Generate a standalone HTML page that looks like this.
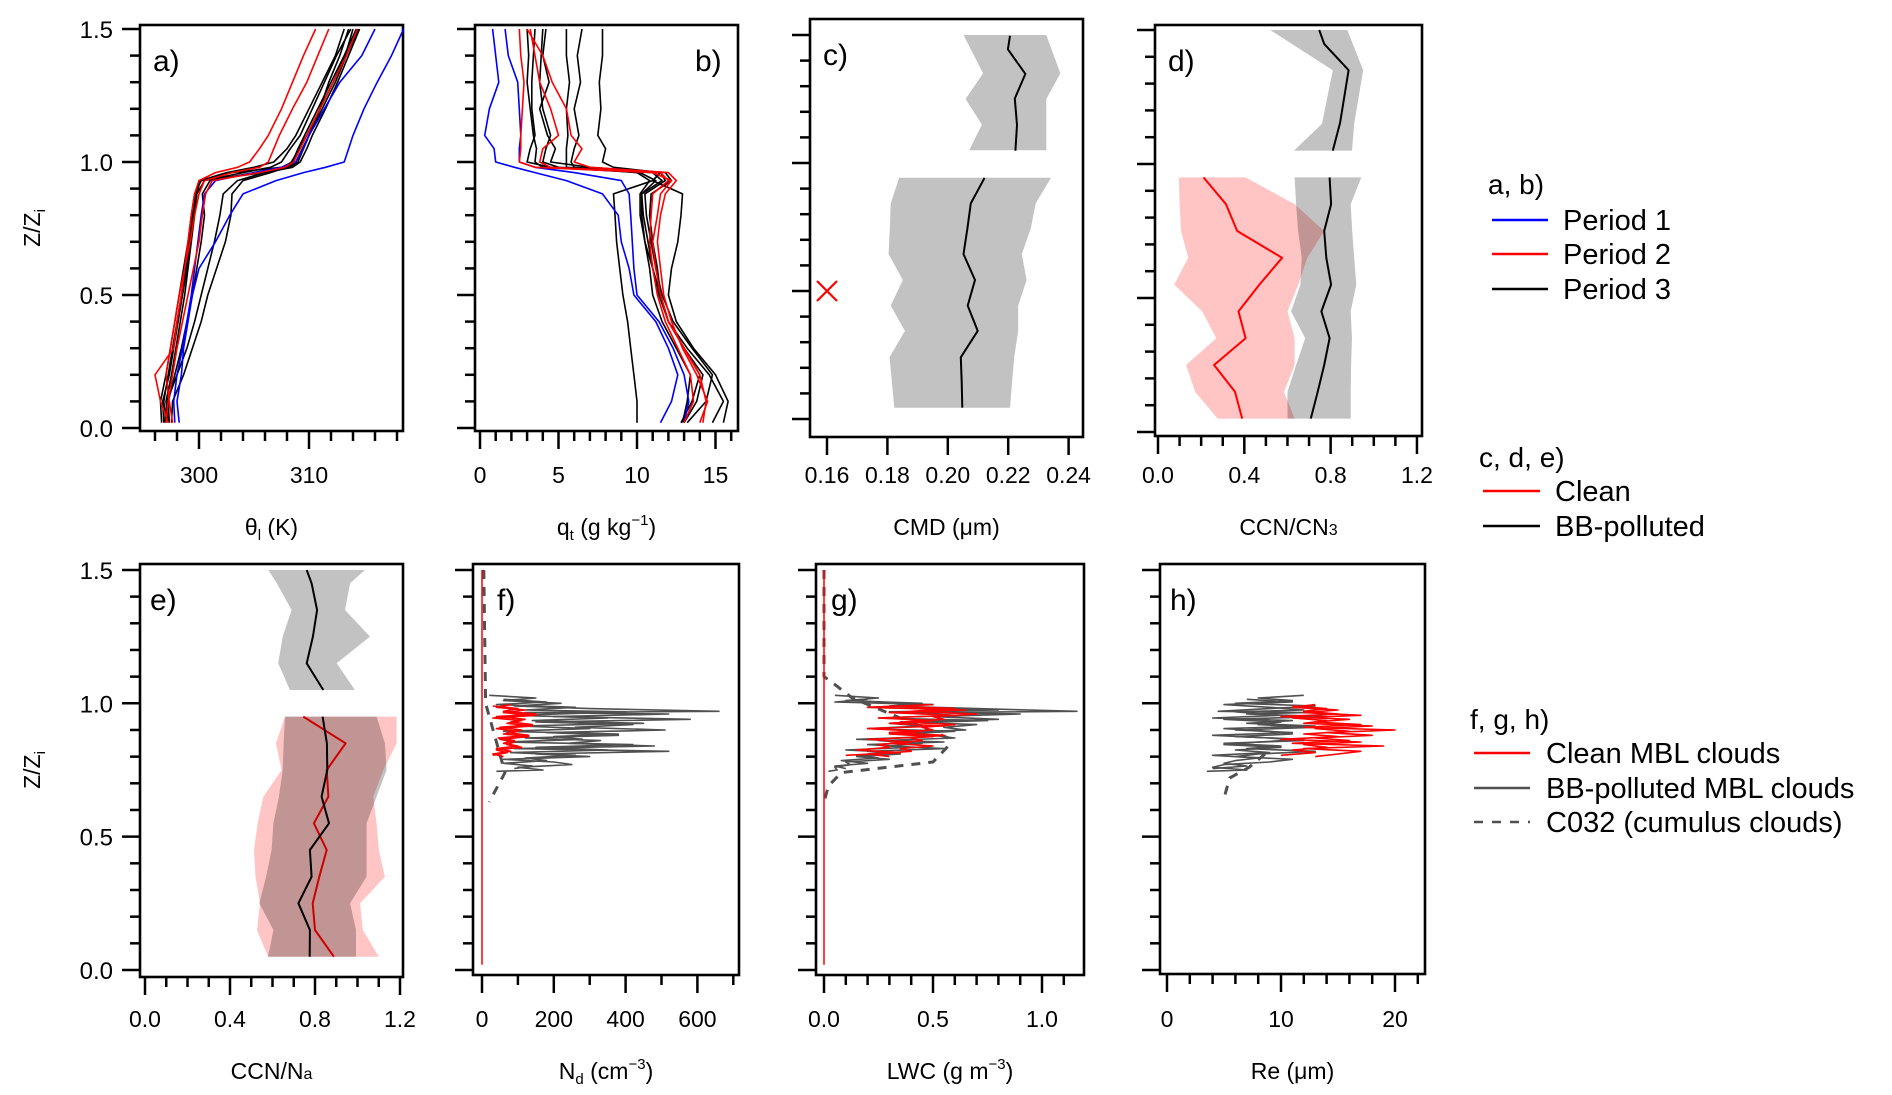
<!DOCTYPE html>
<html><head><meta charset="utf-8"><style>
html,body{margin:0;padding:0;background:#fff;}
svg{display:block;font-family:"Liberation Sans",sans-serif;}
</style></head><body>
<svg id="fig" width="1892" height="1095" viewBox="0 0 1892 1095" xmlns="http://www.w3.org/2000/svg">
<g id="legend" font-size="29" fill="#000">
  <text x="1488" y="194" font-size="28">a, b)</text>
  <line x1="1492" y1="220" x2="1548" y2="220" stroke="#0000ff" stroke-width="2.5"/>
  <text x="1563" y="230">Period 1</text>
  <line x1="1492" y1="254" x2="1548" y2="254" stroke="#ff0000" stroke-width="2.5"/>
  <text x="1563" y="264">Period 2</text>
  <line x1="1492" y1="289" x2="1548" y2="289" stroke="#000" stroke-width="2.5"/>
  <text x="1563" y="299">Period 3</text>
  <text x="1479" y="467" font-size="28">c, d, e)</text>
  <line x1="1483" y1="491" x2="1540" y2="491" stroke="#ff0000" stroke-width="2.5"/>
  <text x="1555" y="501">Clean</text>
  <line x1="1483" y1="526" x2="1540" y2="526" stroke="#000" stroke-width="2.5"/>
  <text x="1555" y="536">BB-polluted</text>
  <text x="1470" y="729" font-size="28">f, g, h)</text>
  <line x1="1474" y1="753" x2="1530" y2="753" stroke="#ff0000" stroke-width="2.5"/>
  <text x="1546" y="763">Clean MBL clouds</text>
  <line x1="1474" y1="788" x2="1530" y2="788" stroke="#505050" stroke-width="2.5"/>
  <text x="1546" y="798">BB-polluted MBL clouds</text>
  <line x1="1474" y1="822" x2="1530" y2="822" stroke="#505050" stroke-width="2.5" stroke-dasharray="9,9"/>
  <text x="1546" y="832">C032 (cumulus clouds)</text>
</g>
</svg>
<script>
// ---------- data ----------
const Z = [0.02,0.1,0.2,0.3,0.4,0.5,0.6,0.7,0.8,0.88,0.93,0.96,0.98,1.0,1.05,1.1,1.2,1.3,1.4,1.5];
const thetaBlack = [
 [297.0,296.8,297.2,297.6,298.0,298.4,298.8,299.1,299.4,299.7,300.0,303,307.5,308.5,309.0,309.6,310.8,312.0,313.2,314.3],
 [296.6,296.5,297.0,297.4,297.8,298.2,298.6,299.0,299.3,299.6,300.2,306,308.5,309.2,309.8,310.3,311.5,312.6,313.6,314.6],
 [297.3,297.2,297.8,298.4,298.9,299.4,299.8,300.2,300.5,300.3,301,305,307.8,308.4,309.1,309.8,311.0,312.2,313.3,314.0],
 [297.5,297.6,298.6,299.4,300.2,300.8,301.6,302.4,302.9,303.0,304,306.5,308.0,308.8,309.4,310.0,311.2,312.4,313.4,314.5],
 [296.9,297.1,298.0,298.9,299.6,300.2,300.8,301.4,301.9,302.2,303.5,306.0,308.2,309.0,309.5,310.0,311.0,311.8,312.8,313.6],
 [297.2,297.0,297.5,297.9,298.3,298.7,299.0,299.3,299.6,299.8,300.5,304.0,306.5,307.5,308.3,309.2,310.3,311.4,312.5,313.8],
 [296.8,296.7,297.3,297.7,298.1,298.5,298.9,299.2,299.5,299.8,300.1,302.5,305.0,306.8,308.0,308.8,310.0,311.2,312.4,313.2]];
const thetaBlue = [
 [298.2,298.0,298.4,298.6,299.0,299.4,300.0,301.5,302.8,304.0,307,309.5,311.5,313.2,313.6,314.0,315.0,316.2,317.5,318.6],
 [297.8,297.7,298.0,298.5,298.9,299.3,299.6,299.9,300.2,300.5,301.5,305,307.5,308.8,309.5,310.0,311.4,312.8,314.8,316.0]];
const thetaRed = [
 [297.2,296.5,296.0,297.7,298.0,298.4,298.7,299.0,299.3,299.6,300.0,301.5,303.5,304.6,305.5,306.3,307.5,308.5,309.5,310.6],
 [297.6,297.3,297.0,297.4,297.8,298.2,298.7,299.2,299.6,300.0,300.5,303.0,305.5,306.3,306.8,307.3,308.5,309.8,310.8,311.8],
 [297.0,297.2,297.6,298.0,298.5,299.0,299.5,300.0,300.3,300.6,301.2,305.5,307.8,308.6,309.2,309.8,311.0,312.2,313.4,314.4]];
const qtBlack = [
 [12.8,13.5,14.0,13.0,12.0,11.4,11.0,10.7,10.4,10.3,11.6,11.0,4.0,3.5,3.6,3.4,3.2,3.0,3.1,3.0],
 [13.2,14.4,14.8,13.5,12.3,11.6,11.2,10.9,10.6,10.5,11.8,11.5,5.0,4.0,4.2,4.5,4.0,3.8,3.9,4.0],
 [14.8,15.5,14.6,13.2,12.0,11.5,11.3,11.0,10.8,10.9,12.2,11.8,7.0,4.5,4.8,4.3,3.8,4.4,4.0,4.2],
 [10.0,10.0,9.8,9.6,9.4,9.1,8.9,8.7,8.6,8.5,11.0,11.5,5.5,5.5,5.5,5.6,5.5,5.7,5.5,5.5],
 [15.5,15.8,15.0,13.6,12.5,12.0,12.2,12.6,12.8,12.9,11.0,11.5,8.5,7.8,8.0,7.5,7.7,7.6,7.8,7.8],
 [13.0,13.8,14.2,13.0,12.0,11.5,11.0,10.5,10.2,10.2,10.8,10.0,6.0,5.8,6.0,6.3,6.0,6.4,6.2,6.5],
 [12.9,13.2,13.4,12.5,11.6,11.0,10.8,10.5,10.3,10.3,11.2,10.2,4.5,3.0,3.2,3.5,3.3,3.3,3.4,3.5]];
const qtBlue = [
 [11.5,12.2,12.6,12.0,11.2,9.8,9.5,9.0,8.8,7.8,5.5,3.5,2.2,1.0,0.9,0.3,0.6,1.2,1.0,0.8],
 [13.0,13.3,13.0,12.3,11.4,10.0,9.8,9.7,9.6,9.5,9.0,6.0,3.5,2.5,2.5,2.6,2.5,2.4,1.8,1.6]];
const qtRed = [
 [14.2,14.4,14.0,13.0,12.0,11.5,11.2,11.0,11.3,11.5,12.2,11.0,3.5,2.5,2.6,2.6,2.7,2.8,2.6,2.5],
 [13.0,13.6,13.4,12.6,11.8,11.3,11.0,10.8,10.9,11.0,12.0,11.5,4.5,3.8,4.0,5.0,4.5,3.8,3.5,3.2],
 [14.0,14.5,13.8,12.9,12.2,11.7,11.5,11.3,11.5,11.8,12.5,12.0,7.0,6.0,6.5,5.8,5.5,4.6,4.0,3.0]];

// panel c
const cTopZ = [1.5,1.35,1.25,1.15,1.05];
const cTopLo = [0.2052,0.2117,0.2059,0.2113,0.2071];
const cTopHi = [0.2326,0.2373,0.2326,0.2326,0.2326];
const cTopMeanZ = [1.497,1.444,1.348,1.252,1.149,1.048];
const cTopMean = [0.2206,0.2199,0.2257,0.2222,0.2229,0.2224];
const cBotZ = [0.942,0.842,0.744,0.644,0.543,0.443,0.344,0.241,0.144,0.044];
const cBotLo = [0.1839,0.1811,0.1808,0.1804,0.1851,0.1811,0.1858,0.1807,0.1815,0.1823];
const cBotHi = [0.2342,0.2291,0.2275,0.2245,0.2261,0.2233,0.2233,0.222,0.2213,0.2206];
const cBotMean = [0.2122,0.2076,0.2065,0.2052,0.2090,0.2066,0.2099,0.2043,0.2046,0.2048];
const cCleanX = [0.16];
const cCleanZ = [0.5];

// panel d
const dTopZ = [1.5,1.35,1.15,1.05];
const dTopLo = [0.52,0.81,0.76,0.63];
const dTopHi = [0.877,0.951,0.909,0.899];
const dTopMeanZ = [1.5,1.448,1.35,1.154,1.05];
const dTopMean = [0.747,0.77,0.883,0.844,0.81];
const ZB = [0.95,0.85,0.75,0.65,0.55,0.45,0.35,0.25,0.15,0.05];
const dGrayLo = [0.633,0.64,0.649,0.666,0.66,0.617,0.682,0.64,0.6,0.6];
const dGrayHi = [0.942,0.893,0.9,0.909,0.919,0.893,0.899,0.895,0.893,0.893];
const dGrayMean = [0.795,0.802,0.77,0.78,0.802,0.757,0.795,0.77,0.74,0.708];
const dRedLo = [0.097,0.10,0.107,0.14,0.075,0.205,0.27,0.13,0.172,0.276];
const dRedHi = [0.406,0.633,0.77,0.692,0.65,0.6,0.633,0.633,0.584,0.633];
const dRedMean = [0.211,0.315,0.367,0.575,0.47,0.373,0.406,0.26,0.357,0.39];

// panel e
const eTopZ = [1.5,1.45,1.35,1.25,1.15,1.05];
const eTopLo = [0.58,0.62,0.69,0.648,0.627,0.682];
const eTopHi = [1.035,0.965,0.941,1.059,0.902,0.988];
const eTopMean = [0.761,0.784,0.81,0.79,0.761,0.839];
const eRedLo = [0.659,0.616,0.643,0.557,0.53,0.513,0.52,0.541,0.527,0.579];
const eRedHi = [1.184,1.184,1.122,1.074,1.09,1.1,1.129,1.012,1.025,1.1];
const eGrayLo = [0.659,0.652,0.648,0.63,0.604,0.596,0.57,0.538,0.604,0.579];
const eGrayHi = [1.09,1.129,1.137,1.09,1.043,1.043,1.043,0.965,0.993,0.993];
const eGrayMean = [0.836,0.856,0.858,0.831,0.866,0.776,0.784,0.722,0.776,0.775];
const eRedMean = [0.745,0.944,0.855,0.863,0.795,0.855,0.82,0.789,0.8,0.889];

// panels f, g, h
const ZC = [1.03,1.02,1.01,1.0,0.99,0.98,0.97,0.965,0.96,0.95,0.94,0.93,0.92,0.91,0.90,0.89,0.88,0.87,0.86,0.85,0.84,0.83,0.82,0.81,0.80,0.79,0.78,0.77,0.76,0.75,0.745];
const ZC2 = [1.015,1.005,0.995,0.985,0.975,0.968,0.955,0.945,0.935,0.925,0.915,0.905,0.895,0.885,0.875,0.865,0.855,0.845,0.835,0.825,0.815,0.805,0.795,0.785,0.775,0.765,0.755];
const ZR = [0.99,0.98,0.97,0.96,0.95,0.94,0.93,0.92,0.91,0.90,0.89,0.88,0.87,0.86,0.85,0.84,0.83,0.82,0.81,0.80];
const ZR2 = [0.995,0.985,0.975,0.965,0.955,0.945,0.935,0.925,0.915,0.905,0.895,0.885,0.875,0.865,0.855,0.845,0.835,0.825,0.815,0.805];
const ndGray = [20,150,60,220,90,300,660,120,520,200,580,150,420,260,510,180,380,120,330,240,480,90,520,150,300,60,200,250,100,170,40];
const ndGray2 = [60,180,40,260,120,400,90,350,140,450,100,300,60,380,200,280,70,420,150,350,80,260,120,180,60,140,90];
const ndRed = [30,100,60,150,40,120,80,140,50,110,70,130,45,90,60,100,40,80,30,60];
const ndRed2 = [80,40,120,60,150,30,110,70,140,40,100,60,130,50,90,70,110,40,70,30];
const ndDashZ = [1.5,1.0,0.74,0.63];
const ndDash = [5,10,64,20];
const lwcGray = [0.05,0.25,0.1,0.45,0.3,0.7,1.16,0.4,0.9,0.5,0.8,0.35,0.7,0.55,0.65,0.3,0.5,0.6,0.25,0.45,0.3,0.55,0.2,0.35,0.15,0.3,0.1,0.12,0.05,0.06,0.02];
const lwcGray2 = [0.2,0.05,0.5,0.2,0.8,0.3,0.6,0.25,0.75,0.3,0.45,0.2,0.6,0.35,0.5,0.15,0.55,0.2,0.4,0.1,0.35,0.15,0.25,0.08,0.2,0.05,0.1];
const lwcRed = [0.3,0.6,0.4,0.7,0.5,0.55,0.35,0.6,0.45,0.5,0.3,0.55,0.4,0.45,0.3,0.5,0.35,0.4,0.2,0.3];
const lwcRed2 = [0.5,0.2,0.65,0.3,0.6,0.25,0.5,0.3,0.55,0.2,0.45,0.3,0.5,0.2,0.4,0.25,0.3,0.15,0.35,0.1];
const lwcDashZ = [1.5,1.1,1.07,1.02,0.87,0.84,0.78,0.74,0.69,0.63];
const lwcDash = [0.0,0.0,0.05,0.13,0.57,0.57,0.50,0.08,0.02,0.0];
const reGray = [12,8,11,6,13,9,4.5,12,7,14,5,10,8,13,6,11,4,9,12,5,10,7,13,8,6,11,9,5,4,7,3.5];
const reGray2 = [7,11,5,9,12,6,10,4,11,7,13,5,9,11,6,12,8,5,10,6,9,4,8,6,5,7,4];
const reRed = [11,14,12,15,10,16,13,17,12,20,14,18,13,16,11,19,12,17,15,13];
const reRed2 = [13,11,15,12,17,11,14,12,18,13,16,12,15,10,17,12,14,11,13,10];
const reDashZ = [0.81,0.76,0.72,0.63];
const reDash = [8.6,7.2,5.5,4.9];
const vertZ = [0.02,1.5];
const vertVal = [0,0];

// ---------- helpers ----------
const NS = "http://www.w3.org/2000/svg";
const svg = document.getElementById('fig');
function mk(tag, attrs, parent){
  const el = document.createElementNS(NS, tag);
  for (const k in attrs) el.setAttribute(k, attrs[k]);
  (parent||svg).appendChild(el);
  return el;
}
function panel(name, box, xmap, ymap){
  const g = mk('g', {});
  
  
  return {g, box, x:xmap, y:ymap};
}
function poly(P, xs, zs, color, w, name, dash){
  const pts = xs.map((v,i)=>P.x(v).toFixed(1)+','+P.y(zs[i]).toFixed(1)).join(' ');
  const el = mk('polyline', {points:pts, fill:'none', stroke:color, 'stroke-width':w, 'stroke-linejoin':'round'}, P.g);
  if (dash) el.setAttribute('stroke-dasharray', dash);
  
  
  return el;
}
function band(P, zs, lo, hi, fill, name){
  const a = lo.map((v,i)=>P.x(v).toFixed(1)+','+P.y(zs[i]).toFixed(1));
  const b = hi.map((v,i)=>P.x(v).toFixed(1)+','+P.y(zs[i]).toFixed(1)).reverse();
  const el = mk('polygon', {points:a.concat(b).join(' '), fill:fill, stroke:'none'}, P.g);
  
  
}
function frame(P, xMajor, xMinor, xLabels, yMajor, yMinor, labelY, title, letter, letterX, yTickLabels, titleHtml){
  const [L,T,R,B] = P.box;
  const fr = mk('rect', {x:L, y:T, width:R-L, height:B-T, fill:'none', stroke:'#000', 'stroke-width':2.6}, P.g);
  
  
  xMajor.forEach((v,i)=>{
    const t = mk('line', {x1:P.x(v), y1:B, x2:P.x(v), y2:B+18, stroke:'#000','stroke-width':2.5}, P.g);
    
    
    const tl = mk('text', {x:P.x(v), y:labelY, 'font-size':23, 'text-anchor':'middle'}, P.g);
    tl.textContent = xLabels[i];
    
    
  });
  xMinor.forEach(v=>{
    const t = mk('line', {x1:P.x(v), y1:B, x2:P.x(v), y2:B+10, stroke:'#000','stroke-width':2.5}, P.g);
    
    
  });
  yMajor.forEach((v,i)=>{
    const t = mk('line', {x1:L-18, y1:P.y(v), x2:L, y2:P.y(v), stroke:'#000','stroke-width':2.5}, P.g);
    
    
    if (yTickLabels){
      const tl = mk('text', {x:113, y:P.y(v)+9, 'font-size':24, 'text-anchor':'end'}, P.g);
      tl.textContent = yTickLabels[i];
      
      
    }
  });
  yMinor.forEach(v=>{
    const t = mk('line', {x1:L-10, y1:P.y(v), x2:L, y2:P.y(v), stroke:'#000','stroke-width':2.5}, P.g);
    
    
  });
  const tt = mk('text', {x:(L+R)/2, y:labelY+52, 'font-size':23, 'text-anchor':'middle'}, P.g);
  tt.innerHTML = titleHtml;
  
  
  const lt = mk('text', {x:letterX, y:T+46, 'font-size':30}, P.g);
  lt.textContent = letter;
  
  
}
const yMaj = [0,0.5,1.0,1.5];
const yMin = [0.1,0.2,0.3,0.4,0.6,0.7,0.8,0.9,1.1,1.2,1.3,1.4];
const yLab = ['0.0','0.5','1.0','1.5'];
const topY = z=>428-z*266;
const botY = z=>970-z*266.7;

// ---------- panel a ----------
const A = panel('panel-a-theta', [140,25,403,431], v=>199+(v-300)*11.0, topY);
frame(A,[300,310],[296,298,302,304,306,308,312,314,316,318],['300','310'],yMaj,yMin,483,'','a)',153,yLab,'θ<tspan font-size="15" dy="5">l</tspan><tspan dy="-5"> (K)</tspan>');
thetaBlack.forEach(p=>poly(A,p,Z,'#000',1.6,'profile-period3'));
thetaBlue.forEach(p=>poly(A,p,Z,'#0000ff',1.6,'profile-period1'));
thetaRed.forEach(p=>poly(A,p,Z,'#ff0000',1.6,'profile-period2'));

// ---------- panel b ----------
const Bp = panel('panel-b-qt', [475,25,738,431], v=>480+v*15.7, topY);
frame(Bp,[0,5,10,15],[1,2,3,4,6,7,8,9,11,12,13,14,16],['0','5','10','15'],yMaj,yMin,483,'','b)',695,null,'q<tspan font-size="15" dy="5">t</tspan><tspan dy="-5"> (g kg</tspan><tspan font-size="15" dy="-10">−1</tspan><tspan dy="10">)</tspan>');
qtBlack.forEach(p=>poly(Bp,p,Z,'#000',1.6,'profile-period3'));
qtBlue.forEach(p=>poly(Bp,p,Z,'#0000ff',1.6,'profile-period1'));
qtRed.forEach(p=>poly(Bp,p,Z,'#ff0000',1.6,'profile-period2'));

// ---------- panel c ----------
const C = panel('panel-c-cmd', [810,19,1083,437], v=>827+(v-0.16)*3020, z=>419-z*256);
band(C,cTopZ,cTopLo,cTopHi,'rgba(0,0,0,0.24)','bb-band-above');
band(C,cBotZ,cBotLo,cBotHi,'rgba(0,0,0,0.24)','bb-band-below');
poly(C,cTopMean,cTopMeanZ,'#000',2,'bb-mean-above');
poly(C,cBotMean,cBotZ,'#000',2,'bb-mean-below');
cCleanX.forEach((v,i)=>{
  const cx=C.x(v), cy=C.y(cCleanZ[i]);
  const m = mk('path',{d:`M${cx-10} ${cy-10}L${cx+10} ${cy+10}M${cx-10} ${cy+10}L${cx+10} ${cy-10}`,stroke:'#ff0000','stroke-width':2.2,fill:'none'},C.g);
  
  
});
frame(C,[0.16,0.18,0.20,0.22,0.24],[],['0.16','0.18','0.20','0.22','0.24'],yMaj,yMin,483,'','c)',823,null,'CMD (μm)');

// ---------- panel d ----------
const D = panel('panel-d-ccn-cn3', [1155,25,1422,436], v=>1158+v*215.8, z=>432-z*268);
band(D,dTopZ,dTopLo,dTopHi,'rgba(0,0,0,0.24)','bb-band-above');
band(D,ZB,dRedLo,dRedHi,'rgba(255,0,0,0.23)','clean-band');
band(D,ZB,dGrayLo,dGrayHi,'rgba(0,0,0,0.24)','bb-band');
poly(D,dTopMean,dTopMeanZ,'#000',2,'bb-mean-above');
poly(D,dGrayMean,ZB,'#000',2,'bb-mean');
poly(D,dRedMean,ZB,'#ff0000',2,'clean-mean');
frame(D,[0,0.4,0.8,1.2],[0.1,0.2,0.3,0.5,0.6,0.7,0.9,1.0,1.1],['0.0','0.4','0.8','1.2'],yMaj,yMin,483,'','d)',1168,null,'CCN/CN<tspan font-size="16">3</tspan>');

// ---------- panel e ----------
const E = panel('panel-e-ccn-na', [140,564,403,977], v=>145+v*212.5, botY);
band(E,eTopZ,eTopLo,eTopHi,'rgba(0,0,0,0.24)','bb-band-above');
band(E,ZB,eRedLo,eRedHi,'rgba(255,0,0,0.23)','clean-band');
band(E,ZB,eGrayLo,eGrayHi,'rgba(0,0,0,0.24)','bb-band');
poly(E,eTopMean,eTopZ,'#000',2,'bb-mean-above');
poly(E,eRedMean,ZB,'#cc0000',2,'clean-mean');
poly(E,eGrayMean,ZB,'#000',2,'bb-mean');
frame(E,[0,0.4,0.8,1.2],[0.1,0.2,0.3,0.5,0.6,0.7,0.9,1.0,1.1],['0.0','0.4','0.8','1.2'],yMaj,yMin,1027,'','e)',150,yLab,'CCN/N<tspan font-size="16">a</tspan>');

// ---------- panel f ----------
const F = panel('panel-f-nd', [473,564,739,975], v=>482+v*0.359, botY);
poly(F,ndDash,ndDashZ,'#505050',3,'c032-profile','9,8');
poly(F,ndGray,ZC,'#505050',1.6,'bb-cloud-profile');
poly(F,ndGray2,ZC2,'#505050',1.6,'bb-cloud-profile-2');
poly(F,ndRed,ZR,'#ff0000',1.6,'clean-cloud-profile');
poly(F,ndRed2,ZR2,'#ff0000',1.6,'clean-cloud-profile-2');
poly(F,vertVal,vertZ,'#ff0000',1.5,'clean-cloud-vertical');
frame(F,[0,200,400,600],[100,300,500,700],['0','200','400','600'],yMaj,yMin,1027,'','f)',497,null,'N<tspan font-size="15" dy="5">d</tspan><tspan dy="-5"> (cm</tspan><tspan font-size="15" dy="-10">−3</tspan><tspan dy="10">)</tspan>');

// ---------- panel g ----------
const G = panel('panel-g-lwc', [816,564,1084,975], v=>824+v*218, botY);
poly(G,lwcDash,lwcDashZ,'#505050',3,'c032-profile','9,8');
poly(G,lwcGray,ZC,'#505050',1.6,'bb-cloud-profile');
poly(G,lwcGray2,ZC2,'#505050',1.6,'bb-cloud-profile-2');
poly(G,lwcRed,ZR,'#ff0000',1.6,'clean-cloud-profile');
poly(G,lwcRed2,ZR2,'#ff0000',1.6,'clean-cloud-profile-2');
poly(G,vertVal,vertZ,'#ff0000',1.5,'clean-cloud-vertical');
frame(G,[0,0.5,1.0],[0.1,0.2,0.3,0.4,0.6,0.7,0.8,0.9,1.1],['0.0','0.5','1.0'],yMaj,yMin,1027,'','g)',831,null,'LWC (g m<tspan font-size="15" dy="-10">−3</tspan><tspan dy="10">)</tspan>');

// ---------- panel h ----------
const H = panel('panel-h-re', [1160,564,1425,974], v=>1167+v*11.4, botY);
poly(H,reDash,reDashZ,'#505050',3,'c032-profile','9,8');
poly(H,reGray,ZC,'#505050',1.6,'bb-cloud-profile');
poly(H,reGray2,ZC2,'#505050',1.6,'bb-cloud-profile-2');
poly(H,reRed,ZR,'#ff0000',1.6,'clean-cloud-profile');
poly(H,reRed2,ZR2,'#ff0000',1.6,'clean-cloud-profile-2');
frame(H,[0,10,20],[2,4,6,8,12,14,16,18,22],['0','10','20'],yMaj,yMin,1027,'','h)',1170,null,'Re (μm)');

// y-axis titles
[[228,'y-axis-title-top'],[770,'y-axis-title-bottom']].forEach(([cy,nm])=>{
  const t = mk('text',{x:0,y:0,'font-size':23,'text-anchor':'middle',transform:`translate(40,${cy}) rotate(-90)`});
  t.innerHTML = 'Z/Z<tspan font-size="15" dy="5">i</tspan>';
  
  
});
</script>
</body></html>
